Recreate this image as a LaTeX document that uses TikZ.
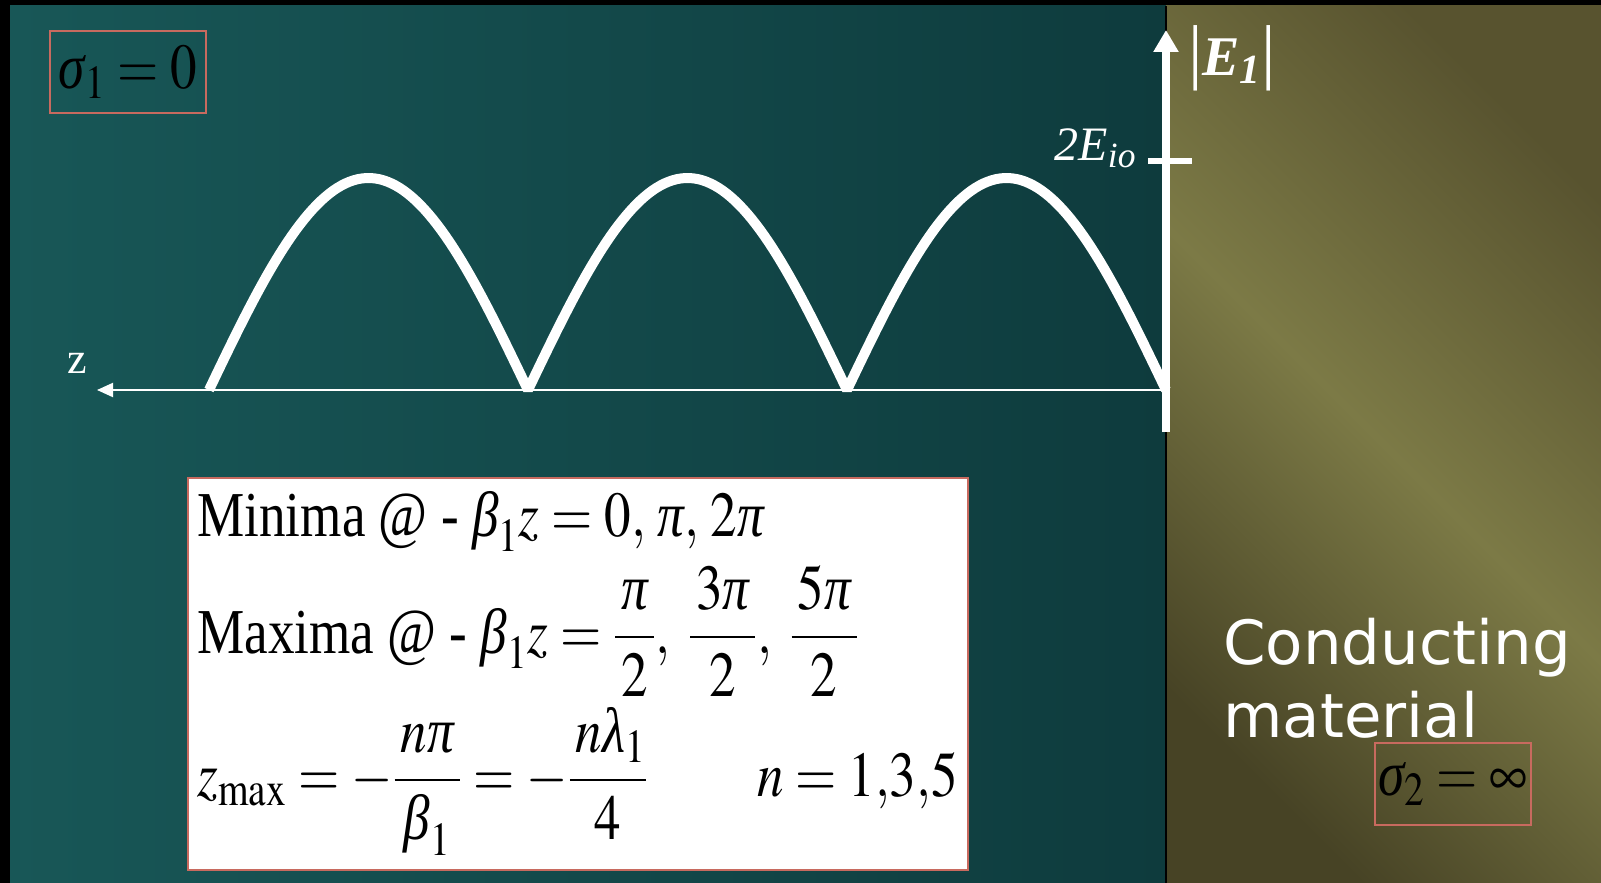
\documentclass[tikz,border=0pt]{standalone}
\usepackage{amsmath}
\usepackage{graphicx}
\usepackage{mathptmx}
\usepackage[no-math]{fontspec}
\setmainfont{Liberation Serif}
\newfontfamily\verdana{DejaVu Sans}
\usepackage{xcolor}
\definecolor{deepteal}{HTML}{185757}
\definecolor{darkteal}{HTML}{0E3B3D}
\definecolor{olivelite}{HTML}{7C7A46}
\definecolor{olivedark}{HTML}{474325}
\definecolor{olivedeep}{HTML}{58532F}
\definecolor{rosered}{HTML}{C86A5F}
\usepackage{tikz}
\usetikzlibrary{arrows.meta,positioning,calc}
\tikzset{
  sigbox/.style ={draw=rosered,line width=1pt,minimum width=78pt,
                  minimum height=41pt,inner sep=0pt,
                  font=\fontsize{32}{36}\selectfont},
  eqbox/.style  ={draw=rosered,fill=white,line width=1pt,
                  minimum width=390pt,minimum height=196pt},
  eqline/.style ={anchor=base west,inner sep=0pt,
                  font=\fontsize{32}{38}\selectfont},
  lbl/.style    ={text=white,inner sep=0pt},
  axis/.style   ={draw=white,line width=4pt,-{Triangle[length=11pt,width=12pt]}},
  zaxis/.style  ={draw=white,line width=1pt,-{Triangle[length=8pt,width=7pt]}},
  wave/.style   ={draw=white,line width=5pt,line join=bevel},
}
\newcommand{\sq}[1]{\scalebox{0.83}[1]{#1}}
\newcommand{\gk}[1]{\textit{#1}}
\newcommand{\vbar}{{\fontsize{36}{38}\selectfont|}}

\begin{document}
\begin{tikzpicture}[x=0.5pt,y=-0.5pt]
\useasboundingbox (0,0) rectangle (1601,883);
% background
\fill[black] (0,0) rectangle (1601,883);
\shade[left color=deepteal,right color=darkteal] (10,6) rectangle (1166,883);
\shade[bottom color=olivedark,top color=olivedeep,middle color=olivelite,
       shading angle=-45] (1166,6) rectangle (1601,883);
\draw[black,line width=0.6pt] (1166,6) -- (1166,883);
% axes
\coordinate (origin) at (1166,390);
\coordinate (zend) at (97,390);
\coordinate (ebot) at (1166,432);
\coordinate (etop) at (1166,30);
\coordinate (peak) at (1166,161);
\draw[zaxis] (origin) -- (zend);
% standing wave |E1|
\draw[wave] plot[domain=0:957,samples=232]
  ({209+\x},{390-212*abs(sin(\x/319*180))});
\draw[axis] (ebot) -- (etop);
\draw[white,line width=3pt] ([xshift=-9pt]peak) -- ([xshift=13pt]peak);
\node[lbl,font=\fontsize{22}{26}\selectfont] (zlbl) at (77,363) {z};
\node[lbl,anchor=east,font=\fontsize{24}{28}\selectfont\itshape] (eio)
  at (1137,148) {2E\textsubscript{io}};
\node[lbl,font=\fontsize{28}{30}\selectfont] (emag) at (1232,58)
  {\vbar\textbf{\textit{E\textsubscript{1}}}\vbar};
% media
\node[sigbox] (sig1) at (128,72) {\sq{$\gk{σ}_1 = 0$}};
\node[sigbox] (sig2) at (1453,784) {\sq{$\gk{σ}_2 = \infty$}};
\node[lbl,anchor=base west,font=\verdana\fontsize{30.5}{36}\selectfont] (cond)
  at (1223,664) {Conducting};
\node[lbl,anchor=base west,font=\verdana\fontsize{30.5}{36}\selectfont] (mat)
  at ([yshift=-36.5pt]cond.base west) {material};
% extrema
\node[eqbox] (eqs) at (577.5,673.5) {};
\node[eqline] (minima) at (197,536)
  {\sq{Minima @ - $\gk{β}_1 z = 0,\, \gk{π},\, 2\gk{π}$}};
\node[eqline] (maxima) at (197,653)
  {\sq{Maxima @ - $\gk{β}_1 z = \dfrac{\,\gk{π}\,}{2},\; \dfrac{\,3\gk{π}\,}{2},\; \dfrac{\,5\gk{π}\,}{2}$}};
\node[eqline] (zmax) at (197,796)
  {\sq{$z_{\max} = -\dfrac{\,n\gk{π}\,}{\gk{β}_1} = -\dfrac{\,n\gk{λ}_1}{4}$}};
\node[eqline,anchor=base east] (nvals) at (958,796) {\sq{$n = 1{,}3{,}5$}};
\end{tikzpicture}
\end{document}
